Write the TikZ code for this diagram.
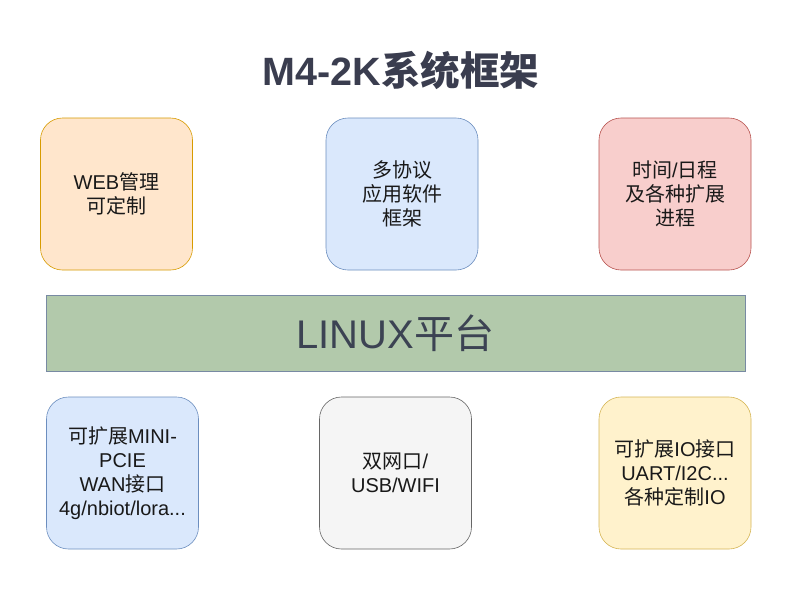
\documentclass[tikz,border=0pt]{standalone}
\usepackage{fontspec}
\setmainfont{Liberation Sans}
\newfontfamily\cjk{Noto Sans CJK SC}
\definecolor{orgF}{HTML}{FFE6CC}\definecolor{orgD}{HTML}{D79B00}
\definecolor{bluF}{HTML}{DAE8FC}\definecolor{bluD}{HTML}{6C8EBF}
\definecolor{redF}{HTML}{F8CECC}\definecolor{redD}{HTML}{B85450}
\definecolor{grnF}{HTML}{B2C9AB}\definecolor{grnD}{HTML}{788AA3}
\definecolor{gryF}{HTML}{F5F5F5}\definecolor{gryD}{HTML}{666666}
\definecolor{yelF}{HTML}{FFF2CC}\definecolor{yelD}{HTML}{D6B656}
\definecolor{titleC}{HTML}{3A3D4F}
\definecolor{linuxC}{HTML}{3C4353}
\tikzset{
  card/.style={draw, rounded corners=22pt, minimum width=152pt, minimum height=152pt,
    align=center, font=\fontsize{20pt}{24pt}\selectfont, text=black!90, line width=0.6pt},
}
\begin{document}
\begin{tikzpicture}[x=1pt,y=-1pt]
\useasboundingbox[fill=white] (0,0) rectangle (800,600);
\node[text=titleC, font=\fontsize{39.5pt}{44pt}\selectfont\bfseries] (title) at (401,70) {M4-2K{\cjk 系统框架}};
\node[card, fill=orgF, draw=orgD] (web) at (116.5,194) {WEB{\cjk 管理}\\{\cjk 可定制}};
\node[card, fill=bluF, draw=bluD] (proto) at (402,194) {{\cjk 多协议}\\{\cjk 应用软件}\\{\cjk 框架}};
\node[card, fill=redF, draw=redD] (time) at (675,194) {{\cjk 时间}/{\cjk 日程}\\{\cjk 及各种扩展}\\{\cjk 进程}};
\node[draw=grnD, fill=grnF, minimum width=699pt, minimum height=76pt, text=linuxC,
  font=\fontsize{40pt}{46pt}\selectfont, line width=0.6pt] (linux) at (395.5,333) {LINUX{\cjk 平台}};
\node[card, fill=bluF, draw=bluD] (pcie) at (122.5,473) {{\cjk 可扩展}MINI-\\PCIE\\WAN{\cjk 接口}\\4g/nbiot/lora...};
\node[card, fill=gryF, draw=gryD] (net) at (395.5,473) {{\cjk 双网口}/\\USB/WIFI};
\node[card, fill=yelF, draw=yelD] (io) at (675,473) {{\cjk 可扩展}IO{\cjk 接口}\\UART/I2C...\\{\cjk 各种定制}IO};
\end{tikzpicture}
\end{document}
